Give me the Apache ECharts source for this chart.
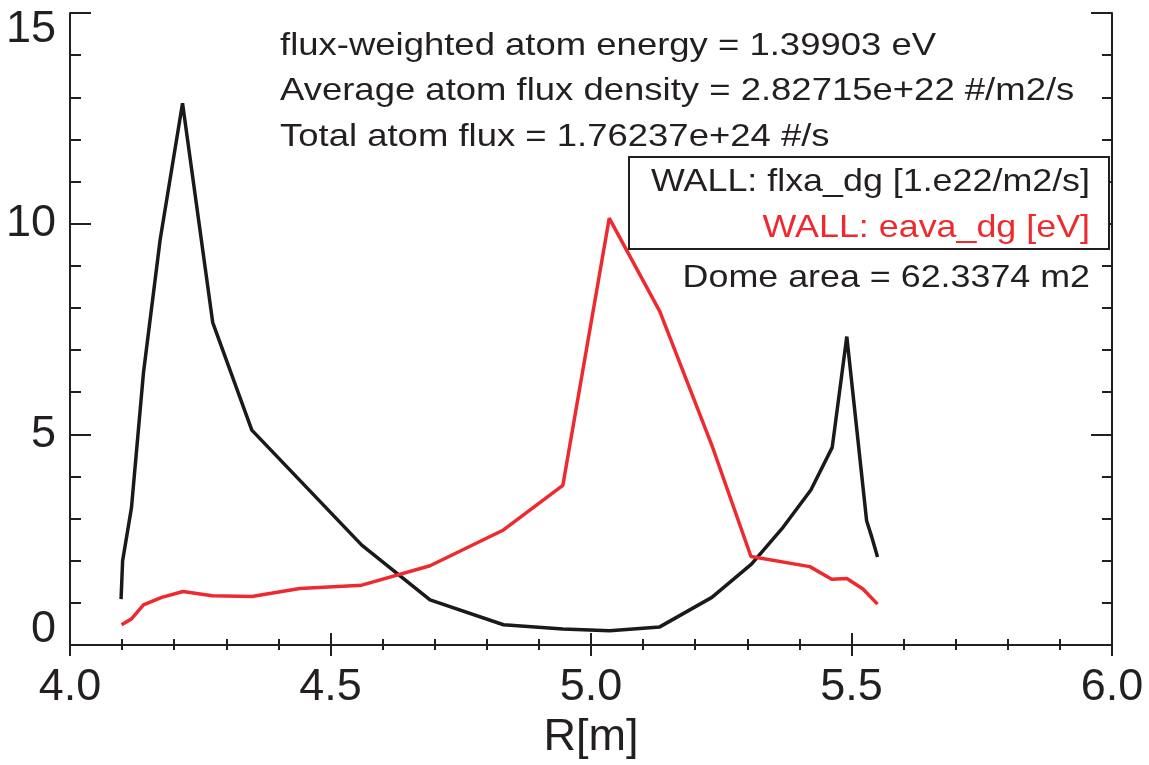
<!DOCTYPE html>
<html>
<head>
<meta charset="utf-8">
<script src="https://cdn.jsdelivr.net/npm/echarts@6/dist/echarts.min.js"></script>
<style>
html,body{margin:0;padding:0;background:#fff;}
#chart{width:1149px;height:765px;}
</style>
</head>
<body>
<div id="chart"></div>
<script>
// ---- data ----
const rFlux = [4.098, 4.101, 4.118, 4.141, 4.173, 4.216, 4.274, 4.349, 4.560, 4.691, 4.832, 4.946, 5.036, 5.132, 5.232, 5.308, 5.369, 5.422, 5.463, 5.491, 5.529, 5.539, 5.550];
const fluxValues = [1.09, 2.00, 3.26, 6.46, 9.62, 12.86, 7.65, 5.10, 2.37, 1.07, 0.48, 0.38, 0.34, 0.43, 1.13, 1.92, 2.80, 3.68, 4.69, 7.32, 2.95, 2.56, 2.09];
const rEnergy = [4.099, 4.118, 4.141, 4.176, 4.217, 4.273, 4.349, 4.441, 4.560, 4.691, 4.832, 4.946, 5.035, 5.132, 5.232, 5.307, 5.420, 5.462, 5.491, 5.522, 5.550];
const energyValues = [0.48, 0.62, 0.95, 1.13, 1.27, 1.17, 1.15, 1.34, 1.42, 1.88, 2.73, 3.79, 10.13, 7.92, 4.74, 2.10, 1.86, 1.56, 1.58, 1.33, 0.97];
const xTickValues = [4.0, 4.5, 5.0, 5.5, 6.0];
const xTickLabels = ['4.0', '4.5', '5.0', '5.5', '6.0'];
const yTickValues = [0, 5, 10, 15];
const yTickLabels = ['0', '5', '10', '15'];
const seriesNames = ['WALL: flxa_dg [1.e22/m2/s]', 'WALL: eava_dg [eV]'];
const annotations = [
  'flux-weighted atom energy = 1.39903 eV',
  'Average atom flux density = 2.82715e+22 #/m2/s',
  'Total atom flux = 1.76237e+24 #/s'
];
const domeText = 'Dome area = 62.3374 m2';
const xName = 'R[m]';

// ---- styling ----
const FONT = '"Liberation Sans", Arial, Helvetica, sans-serif';
const INK = '#231f20';
const BLACK = '#1a1a1a';
const RED = '#ee2a2e';
const TXT = 32, SX = 1.14, SXL = 1.12;

function pairs(xs, ys) { return xs.map((x, i) => [x, ys[i]]); }
function lookup(vals, labels, v) {
  for (let i = 0; i < vals.length; i++) if (Math.abs(vals[i] - v) < 1e-6) return labels[i];
  return '';
}

const chart = echarts.init(document.getElementById('chart'), null, {renderer: 'canvas'});

const axisLine = {show: true, lineStyle: {color: INK, width: 2}};

const option = {
  animation: false,
  backgroundColor: '#ffffff',
  grid: {left: 70, right: 37, top: 13, bottom: 119, containLabel: false},
  xAxis: [
    {
      type: 'value', position: 'bottom', min: 4, max: 6, interval: 0.5,
      axisLine: axisLine,
      axisTick: {show: true, inside: true, length: 12, lineStyle: {color: INK, width: 2}},
      minorTick: {show: true, splitNumber: 5, length: 6, lineStyle: {color: INK, width: 2}},
      splitLine: {show: false},
      axisLabel: {
        show: true, margin: 20, fontSize: 45, color: INK, fontFamily: FONT,
        formatter: v => lookup(xTickValues, xTickLabels, v)
      },
      name: xName, nameLocation: 'middle', nameGap: 70,
      nameTextStyle: {fontSize: 45, color: INK, fontFamily: FONT}
    },
    {
      type: 'value', position: 'top', min: 4, max: 6, interval: 0.5,
      axisLine: axisLine,
      axisTick: {show: true, inside: true, length: 11, lineStyle: {color: INK, width: 2}},
      minorTick: {show: true, splitNumber: 5, length: 5, lineStyle: {color: INK, width: 2}},
      splitLine: {show: false},
      axisLabel: {show: false}
    }
  ],
  yAxis: [
    {
      type: 'value', position: 'left', min: 0, max: 15, interval: 5,
      axisLine: axisLine,
      axisTick: {show: true, inside: true, length: 21, lineStyle: {color: INK, width: 2}},
      minorTick: {show: true, splitNumber: 5, length: 11, lineStyle: {color: INK, width: 2}},
      splitLine: {show: false},
      axisLabel: {
        show: true, margin: 14, fontSize: 45, color: INK, fontFamily: FONT,
        formatter: v => {
          const t = lookup(yTickValues, yTickLabels, v);
          if (v === 0) return '{lo|' + t + '}';
          if (v === 15) return '{hi|' + t + '}';
          return t;
        },
        rich: {
          lo: {fontSize: 45, color: INK, fontFamily: FONT, padding: [0, 0, 30, 0]},
          hi: {fontSize: 45, color: INK, fontFamily: FONT, padding: [34, 0, 0, 0]}
        }
      }
    },
    {
      type: 'value', position: 'right', min: 0, max: 15, interval: 5,
      axisLine: axisLine,
      axisTick: {show: true, inside: true, length: 21, lineStyle: {color: INK, width: 2}},
      minorTick: {show: true, splitNumber: 5, length: 10, lineStyle: {color: INK, width: 2}},
      splitLine: {show: false},
      axisLabel: {show: false}
    }
  ],
  series: [
    {
      name: seriesNames[0], type: 'line', xAxisIndex: 0, yAxisIndex: 0,
      data: pairs(rFlux, fluxValues), showSymbol: false, symbol: 'none',
      lineStyle: {color: BLACK, width: 3.5}, itemStyle: {color: BLACK}, z: 3
    },
    {
      name: seriesNames[1], type: 'line', xAxisIndex: 0, yAxisIndex: 0,
      data: pairs(rEnergy, energyValues), showSymbol: false, symbol: 'none',
      lineStyle: {color: RED, width: 3.5}, itemStyle: {color: RED}, z: 4
    }
  ],
  graphic: [
    // annotations
    ...annotations.map((t, i) => ({
      type: 'text', x: 280, y: [46, 91, 137][i], scaleX: SX, z: 10,
      style: {text: t, fontSize: TXT, fontFamily: FONT, fill: INK,
              align: 'left', textAlign: 'left', verticalAlign: 'middle', textVerticalAlign: 'middle'}
    })),
    // legend box
    {
      type: 'rect', z: 10,
      shape: {x: 629, y: 157, width: 480, height: 92},
      style: {fill: '#ffffff', stroke: INK, lineWidth: 2}
    },
    {
      type: 'text', x: 1090, y: 182, scaleX: SXL, z: 11,
      style: {text: seriesNames[0], fontSize: TXT, fontFamily: FONT, fill: INK,
              align: 'right', textAlign: 'right', verticalAlign: 'middle', textVerticalAlign: 'middle'}
    },
    {
      type: 'text', x: 1090, y: 228, scaleX: SXL, z: 11,
      style: {text: seriesNames[1], fontSize: TXT, fontFamily: FONT, fill: RED,
              align: 'right', textAlign: 'right', verticalAlign: 'middle', textVerticalAlign: 'middle'}
    },
    {
      type: 'text', x: 1090, y: 278, scaleX: SXL, z: 10,
      style: {text: domeText, fontSize: TXT, fontFamily: FONT, fill: INK,
              align: 'right', textAlign: 'right', verticalAlign: 'middle', textVerticalAlign: 'middle'}
    }
  ]
};
chart.setOption(option);
</script>
</body>
</html>
